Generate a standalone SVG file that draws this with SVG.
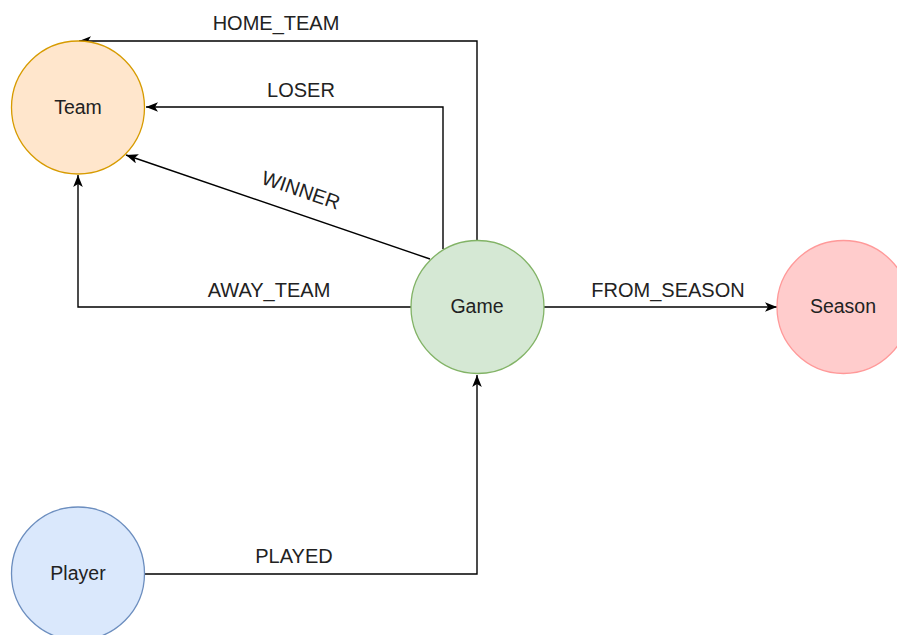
<svg xmlns="http://www.w3.org/2000/svg" width="897" height="635" viewBox="0 0 897 635">
<defs>
<marker id="arr" viewBox="0 0 10 8" refX="10" refY="4" markerWidth="12" markerHeight="9.6" orient="auto" markerUnits="userSpaceOnUse">
<path d="M0,0 L10,4 L0,8 L2.5,4 z" fill="#000"/>
</marker>
<style>
.edge{fill:none;stroke:#000;stroke-width:1.4;marker-end:url(#arr)}
.lbl{font-family:"Liberation Sans",Arial,sans-serif;font-size:20px;fill:#222;text-anchor:middle}
.node text{font-family:"Liberation Sans",Arial,sans-serif;font-size:19.5px;fill:#222;text-anchor:middle}
</style>
</defs>
<rect width="897" height="635" fill="#fff"/>
<g id="connectors">
<path class="edge" d="M477,240 L477,41 L79,41"/>
<path class="edge" d="M443,249 L443,107 L146,107"/>
<path class="edge" d="M430,259 L126,155"/>
<path class="edge" d="M411,307 L78,307 L78,175"/>
<path class="edge" d="M544,307 L777,307"/>
<path class="edge" d="M145,574 L477,574 L477,375"/>
<text class="lbl" x="276" y="30">HOME_TEAM</text>
<text class="lbl" x="301" y="97">LOSER</text>
<text class="lbl" x="301" y="197" transform="rotate(19 301 190)">WINNER</text>
<text class="lbl" x="269" y="297">AWAY_TEAM</text>
<text class="lbl" x="668" y="297">FROM_SEASON</text>
<text class="lbl" x="294" y="563">PLAYED</text>
</g>
<g id="team" class="node">
<circle cx="78" cy="107.5" r="66.5" fill="#ffe6cc" stroke="#d79b00" stroke-width="1.3"/>
<text x="78" y="114">Team</text>
</g>
<g id="game" class="node">
<circle cx="477.5" cy="307" r="66.5" fill="#d5e8d4" stroke="#82b366" stroke-width="1.3"/>
<text x="477" y="313">Game</text>
</g>
<g id="season" class="node">
<circle cx="843.5" cy="307" r="66.5" fill="#ffcccc" stroke="#ff9999" stroke-width="1.3"/>
<text x="843" y="313">Season</text>
</g>
<g id="player" class="node">
<circle cx="78" cy="573.5" r="66.5" fill="#dae8fc" stroke="#6c8ebf" stroke-width="1.3"/>
<text x="78" y="580">Player</text>
</g>
</svg>
